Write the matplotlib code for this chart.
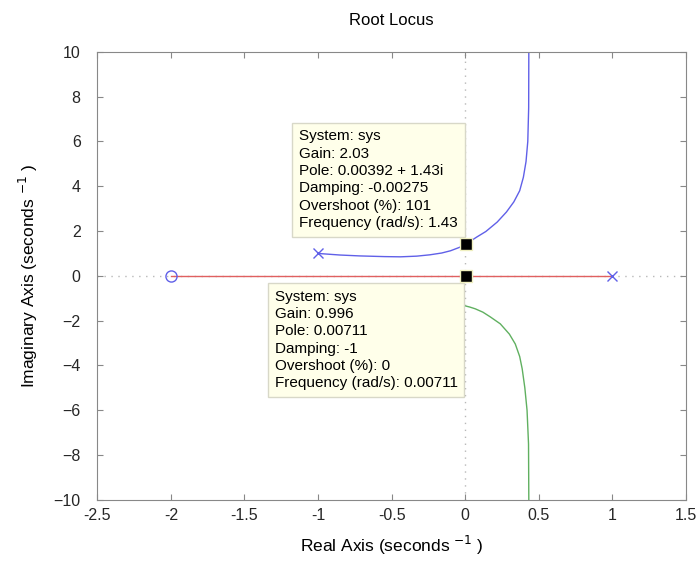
import matplotlib.pyplot as plt
import numpy as np

# root locus branches
blue_re = [-1.0, -0.85, -0.715, -0.55, -0.44, -0.33, -0.24, -0.16, -0.10, -0.04, 0.0039,
           0.04, 0.08, 0.14, 0.217, 0.28, 0.33, 0.37, 0.395, 0.413, 0.425, 0.431, 0.432]
blue_im = [1.0, 0.93, 0.89, 0.86, 0.85, 0.88, 0.94, 1.02, 1.12, 1.27, 1.43,
           1.57, 1.74, 1.98, 2.4, 2.85, 3.3, 3.8, 4.4, 5.1, 6.0, 7.5, 10.0]
green_re = [0.0, 0.03, 0.068, 0.12, 0.17, 0.238, 0.30, 0.34, 0.37, 0.387, 0.405, 0.42, 0.43, 0.432]
green_im = [-1.34, -1.39, -1.47, -1.62, -1.83, -2.14, -2.6, -3.04, -3.6, -4.15, -5.0, -6.0, -7.5, -10.0]
red_re = [-2.0, 1.0]
red_im = [0.0, 0.0]

poles_re = [-1.0, 1.0]
poles_im = [1.0, 0.0]
zeros_re = [-2.0]
zeros_im = [0.0]

tip1 = (0.00392, 1.43)
tip1_text = "System: sys\nGain: 2.03\nPole: 0.00392 + 1.43i\nDamping: -0.00275\nOvershoot (%): 101\nFrequency (rad/s): 1.43"
tip2 = (0.00711, 0.0)
tip2_text = "System: sys\nGain: 0.996\nPole: 0.00711\nDamping: -1\nOvershoot (%): 0\nFrequency (rad/s): 0.00711"

plt.rcParams['font.family'] = ['Liberation Sans', 'DejaVu Sans']

fig = plt.figure(figsize=(7, 5.63), dpi=100)
ax = fig.add_axes([0.139, 0.112, 0.841, 0.796])

# dotted axes lines
ax.axhline(0, color='#b8b8b8', linestyle=(0, (1, 4)), linewidth=1, zorder=1)
ax.axvline(0, color='#b8b8b8', linestyle=(0, (1, 4)), linewidth=1, zorder=1)

ax.plot(red_re, red_im, color='#e06060', linewidth=1, zorder=2)
ax.plot(blue_re, blue_im, color='#6060e8', linewidth=1, zorder=2)
ax.plot(green_re, green_im, color='#60b060', linewidth=1, zorder=2)

ax.plot(poles_re, poles_im, 'x', color='#6060e8', markersize=7, mew=1, zorder=3)
ax.plot(zeros_re, zeros_im, 'o', mfc='none', mec='#6060e8', markersize=8, mew=1, zorder=3)

# data tips
for (px, py) in [tip1, tip2]:
    ax.plot(px, py, 's', color='black', mec='#f0f0c0', markersize=9, mew=1, zorder=5)

box = dict(boxstyle='square,pad=0.45', fc='#ffffea', ec='#d8d8c8', lw=1)
ax.annotate(tip1_text, xy=tip1, xytext=(-120, 10), textcoords='offset points',
            fontsize=11, va='bottom', ha='left', linespacing=1.3, bbox=box, zorder=4)
ax.annotate(tip2_text, xy=tip2, xytext=(-138, -10), textcoords='offset points',
            fontsize=11, va='top', ha='left', linespacing=1.3, bbox=box, zorder=4)

ax.set_xlim(-2.5, 1.5)
ax.set_ylim(-10, 10)
ax.set_xticks(np.arange(-2.5, 1.51, 0.5))
ax.set_yticks(np.arange(-10, 10.1, 2))
ax.set_xticklabels(['-2.5', '-2', '-1.5', '-1', '-0.5', '0', '0.5', '1', '1.5'])
ax.tick_params(direction='in', top=True, right=True, labelsize=11.5, colors='#888888',
               labelcolor='#262626', length=4, pad=6)
ax.tick_params(axis='y', pad=12)
for s in ax.spines.values():
    s.set_color('#888888')

ax.set_title('Root Locus', fontsize=12, pad=19)
ax.set_xlabel('Real Axis (seconds $^{-1}$ )', fontsize=12.5, labelpad=8)
ax.set_ylabel('Imaginary Axis (seconds $^{-1}$ )', fontsize=12.5, labelpad=10)

fig.savefig('out.png', dpi=100)
